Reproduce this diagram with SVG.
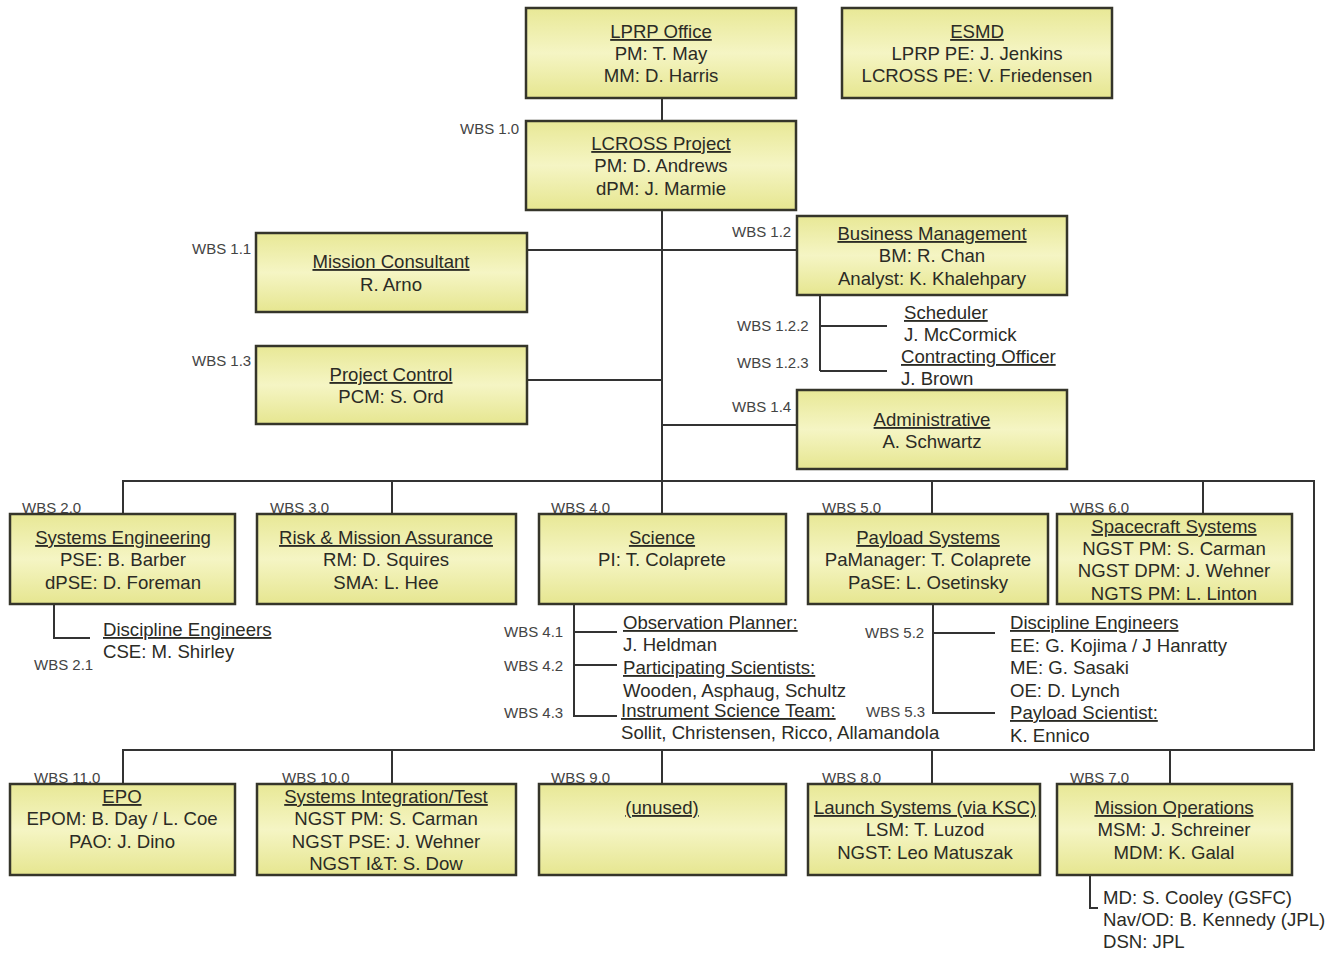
<svg xmlns="http://www.w3.org/2000/svg" width="1334" height="955" viewBox="0 0 1334 955">
<defs>
<linearGradient id="g" x1="0" y1="0" x2="0" y2="1">
<stop offset="0" stop-color="#e8e896"/>
<stop offset="0.5" stop-color="#f5f5c4"/>
<stop offset="1" stop-color="#e6e690"/>
</linearGradient>
<style>
.b{fill:url(#g);stroke:#35352a;stroke-width:2.5}
.t{font-family:"Liberation Sans",Arial,sans-serif;font-size:18.6px;fill:#2b2b25;text-anchor:middle}
.s{font-family:"Liberation Sans",Arial,sans-serif;font-size:18.6px;fill:#2b2b25}
.u{text-decoration:underline}
.w{font-family:"Liberation Sans",Arial,sans-serif;font-size:15px;fill:#444}
.c{fill:none;stroke:#333;stroke-width:2}
</style>
</defs>
<rect width="1334" height="955" fill="#fff"/>
<g id="connectors">
<path class="c" d="M662 98V121 M662 210V481 M527 250H797 M527 380H662 M662 425H797 M820 295V371 M820 326H887 M820 371H887"/>
<path class="c" d="M123 514V481H1314V750H123V784 M392 481V514 M662 481V514 M932 481V514 M1203 481V514 M392 750V784 M662 750V784 M932 750V784 M1170 750V784"/>
<path class="c" d="M54 604V638H90 M574 604V716H617 M574 632H617 M574 665H617 M933 604V713H995 M933 633H995 M1090 875V908H1098"/>
</g>
<g id="lprp"><rect class="b" x="526" y="8" width="270" height="90"/><text class="t" x="661" y="38"><tspan class="u">LPRP Office</tspan></text><text class="t" x="661" y="60">PM: T. May</text><text class="t" x="661" y="82">MM: D. Harris</text></g>
<g id="esmd"><rect class="b" x="842" y="8" width="270" height="90"/><text class="t" x="977" y="38"><tspan class="u">ESMD</tspan></text><text class="t" x="977" y="60">LPRP PE: J. Jenkins</text><text class="t" x="977" y="82">LCROSS PE: V. Friedensen</text></g>
<g id="lcross"><rect class="b" x="526" y="121" width="270" height="89"/><text class="t" x="661" y="150"><tspan class="u">LCROSS Project</tspan></text><text class="t" x="661" y="172">PM: D. Andrews</text><text class="t" x="661" y="195">dPM: J. Marmie</text><text class="w" x="460" y="134">WBS 1.0</text></g>
<g id="mission-consultant"><rect class="b" x="256" y="233" width="271" height="79"/><text class="t" x="391" y="268"><tspan class="u">Mission Consultant</tspan></text><text class="t" x="391" y="291">R. Arno</text><text class="w" x="192" y="254">WBS 1.1</text></g>
<g id="project-control"><rect class="b" x="256" y="346" width="271" height="78"/><text class="t" x="391" y="381"><tspan class="u">Project Control</tspan></text><text class="t" x="391" y="403">PCM: S. Ord</text><text class="w" x="192" y="366">WBS 1.3</text></g>
<g id="business-management"><rect class="b" x="797" y="216" width="270" height="79"/><text class="t" x="932" y="240"><tspan class="u">Business Management</tspan></text><text class="t" x="932" y="262">BM: R. Chan</text><text class="t" x="932" y="285">Analyst: K. Khalehpary</text><text class="w" x="732" y="237">WBS 1.2</text></g>
<g id="scheduler"><text class="s" x="904" y="319"><tspan class="u">Scheduler</tspan></text><text class="s" x="904" y="341">J. McCormick</text><text class="w" x="737" y="331">WBS 1.2.2</text></g>
<g id="contracting"><text class="s" x="901" y="363"><tspan class="u">Contracting Officer</tspan></text><text class="s" x="901" y="385">J. Brown</text><text class="w" x="737" y="368">WBS 1.2.3</text></g>
<g id="administrative"><rect class="b" x="797" y="390" width="270" height="79"/><text class="t" x="932" y="426"><tspan class="u">Administrative</tspan></text><text class="t" x="932" y="448">A. Schwartz</text><text class="w" x="732" y="412">WBS 1.4</text></g>
<g id="systems-engineering"><rect class="b" x="10" y="514" width="225" height="90"/><text class="t" x="123" y="544"><tspan class="u">Systems Engineering</tspan></text><text class="t" x="123" y="566">PSE: B. Barber</text><text class="t" x="123" y="589">dPSE: D. Foreman</text><text class="w" x="22" y="513">WBS 2.0</text></g>
<g id="discipline-se"><text class="s" x="103" y="636"><tspan class="u">Discipline Engineers</tspan></text><text class="s" x="103" y="658">CSE: M. Shirley</text><text class="w" x="34" y="670">WBS 2.1</text></g>
<g id="rma"><rect class="b" x="257" y="514" width="259" height="90"/><text class="t" x="386" y="544"><tspan class="u">Risk &amp; Mission Assurance</tspan></text><text class="t" x="386" y="566">RM: D. Squires</text><text class="t" x="386" y="589">SMA: L. Hee</text><text class="w" x="270" y="513">WBS 3.0</text></g>
<g id="science"><rect class="b" x="539" y="514" width="247" height="90"/><text class="t" x="662" y="544"><tspan class="u">Science</tspan></text><text class="t" x="662" y="566">PI: T. Colaprete</text><text class="w" x="551" y="513">WBS 4.0</text></g>
<g id="science-sub"><text class="s" x="623" y="629"><tspan class="u">Observation Planner:</tspan></text><text class="s" x="623" y="651">J. Heldman</text><text class="s" x="623" y="674"><tspan class="u">Participating Scientists:</tspan></text><text class="s" x="623" y="697">Wooden, Asphaug, Schultz</text><text class="s" x="621" y="717"><tspan class="u">Instrument Science Team:</tspan></text><text class="s" x="621" y="739">Sollit, Christensen, Ricco, Allamandola</text><text class="w" x="504" y="637">WBS 4.1</text><text class="w" x="504" y="671">WBS 4.2</text><text class="w" x="504" y="718">WBS 4.3</text></g>
<g id="payload"><rect class="b" x="808" y="514" width="240" height="90"/><text class="t" x="928" y="544"><tspan class="u">Payload Systems</tspan></text><text class="t" x="928" y="566">PaManager: T. Colaprete</text><text class="t" x="928" y="589">PaSE: L. Osetinsky</text><text class="w" x="822" y="513">WBS 5.0</text></g>
<g id="payload-sub"><text class="s" x="1010" y="629"><tspan class="u">Discipline Engineers</tspan></text><text class="s" x="1010" y="652">EE: G. Kojima / J Hanratty</text><text class="s" x="1010" y="674">ME: G. Sasaki</text><text class="s" x="1010" y="697">OE: D. Lynch</text><text class="s" x="1010" y="719"><tspan class="u">Payload Scientist:</tspan></text><text class="s" x="1010" y="742">K. Ennico</text><text class="w" x="865" y="638">WBS 5.2</text><text class="w" x="866" y="717">WBS 5.3</text></g>
<g id="spacecraft"><rect class="b" x="1057" y="514" width="235" height="90"/><text class="t" x="1174" y="533"><tspan class="u">Spacecraft Systems</tspan></text><text class="t" x="1174" y="555">NGST PM: S. Carman</text><text class="t" x="1174" y="577">NGST DPM: J. Wehner</text><text class="t" x="1174" y="600">NGTS PM: L. Linton</text><text class="w" x="1070" y="513">WBS 6.0</text></g>
<g id="epo"><rect class="b" x="10" y="784" width="225" height="91"/><text class="t" x="122" y="803"><tspan class="u">EPO</tspan></text><text class="t" x="122" y="825">EPOM: B. Day / L. Coe</text><text class="t" x="122" y="848">PAO: J. Dino</text><text class="w" x="34" y="783">WBS 11.0</text></g>
<g id="sit"><rect class="b" x="257" y="784" width="259" height="91"/><text class="t" x="386" y="803"><tspan class="u">Systems Integration/Test</tspan></text><text class="t" x="386" y="825">NGST PM: S. Carman</text><text class="t" x="386" y="848">NGST PSE: J. Wehner</text><text class="t" x="386" y="870">NGST I&amp;T: S. Dow</text><text class="w" x="282" y="783">WBS 10.0</text></g>
<g id="unused"><rect class="b" x="539" y="784" width="247" height="91"/><text class="t" x="662" y="814"><tspan class="u">(unused)</tspan></text><text class="w" x="551" y="783">WBS 9.0</text></g>
<g id="launch"><rect class="b" x="808" y="784" width="232" height="91"/><text class="t" x="925" y="814"><tspan class="u">Launch Systems (via KSC)</tspan></text><text class="t" x="925" y="836">LSM: T. Luzod</text><text class="t" x="925" y="859">NGST: Leo Matuszak</text><text class="w" x="822" y="783">WBS 8.0</text></g>
<g id="mission-ops"><rect class="b" x="1057" y="784" width="235" height="91"/><text class="t" x="1174" y="814"><tspan class="u">Mission Operations</tspan></text><text class="t" x="1174" y="836">MSM: J. Schreiner</text><text class="t" x="1174" y="859">MDM: K. Galal</text><text class="w" x="1070" y="783">WBS 7.0</text></g>
<g id="mission-ops-sub"><text class="s" x="1103" y="904">MD: S. Cooley (GSFC)</text><text class="s" x="1103" y="926">Nav/OD: B. Kennedy (JPL)</text><text class="s" x="1103" y="948">DSN: JPL</text></g>
</svg>
